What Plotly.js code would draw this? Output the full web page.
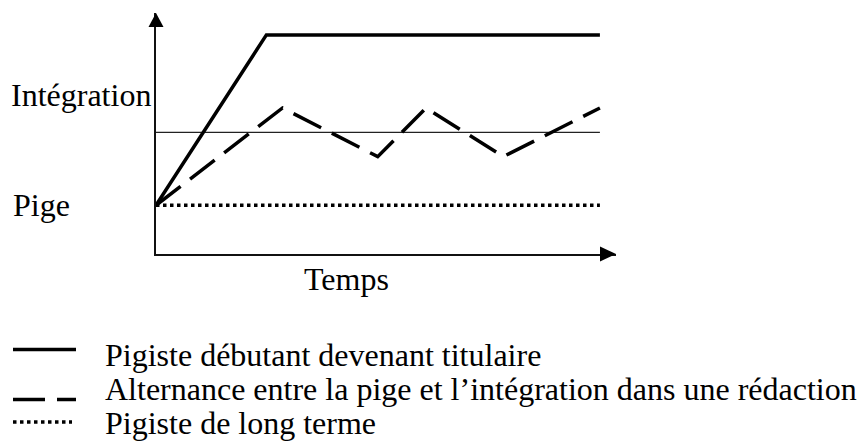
<!DOCTYPE html>
<html>
<head>
<meta charset="utf-8">
<script src="https://cdn.plot.ly/plotly-3.0.1.min.js"></script>
<style>
  html, body { margin: 0; padding: 0; background: #fff; }
  #chart { width: 861px; height: 441px; }
</style>
</head>
<body>
<div id="chart"></div>
<script>
// ---- Data ----
const seriesNames = [
  "Pigiste débutant devenant titulaire",
  "Alternance entre la pige et l\u2019intégration dans une rédaction",
  "Pigiste de long terme"
];
// time (arbitrary units 0-100) and level (0 = time axis)
const tempsTitulaire = [0, 24, 96.5];
const niveauTitulaire = [2, 9, 9];
const tempsAlternance = [0, 27.5, 48.2, 58.7, 75.5, 96.5];
const niveauAlternance = [2, 6, 4, 6, 4, 6];
const tempsLongTerme = [0, 96.5];
const niveauLongTerme = [2, 2];
const tempsSeuil = [0, 96.5];
const niveauSeuil = [5, 5];
const axisLabels = ["Intégration", "Pige", "Temps"];

// ---- Layout geometry ----
const W = 861, H = 441;
const M = { l: 156, r: 245, t: 13, b: 187 };
const PW = W - M.l - M.r, PH = H - M.t - M.b;
const px = x => (x - M.l) / PW;          // pixel -> paper x
const py = y => (H - M.b - y) / PH;      // pixel -> paper y
const FONT = "Liberation Serif";

const traces = [
  { x: tempsSeuil, y: niveauSeuil, mode: "lines", line: { color: "#222", width: 1.2 }, showlegend: false, hoverinfo: "skip" },
  { x: tempsLongTerme, y: niveauLongTerme, mode: "lines", name: seriesNames[2], line: { color: "#000", width: 3.5, dash: "3.5px,3.5px" }, showlegend: false },
  { x: tempsAlternance, y: niveauAlternance, mode: "lines", name: seriesNames[1], line: { color: "#000", width: 3.5, dash: "31px,12px" }, showlegend: false },
  { x: tempsTitulaire, y: niveauTitulaire, mode: "lines", name: seriesNames[0], line: { color: "#000", width: 3.5 }, showlegend: false }
];

const legendY = [349.5, 399.5, 422];
const legendDash = ["solid", "32px,12px", "3.5px,3.5px"];
const legendEnd = [76, 76, 72];
const legendTextCenter = [355, 389, 423];

const shapes = [
  // arrowheads
  { type: "path", xref: "paper", yref: "paper", xsizemode: "pixel", ysizemode: "pixel",
    xanchor: 0, yanchor: 1, path: "M0,0 L-7.5,-14 L7.5,-14 Z", fillcolor: "#000", line: { width: 0 } },
  { type: "path", xref: "paper", yref: "paper", xsizemode: "pixel", ysizemode: "pixel",
    xanchor: 1, yanchor: 0, path: "M0,0 L-16,7.5 L-16,-7.5 Z", fillcolor: "#000", line: { width: 0 } }
];
seriesNames.forEach((n, i) => {
  shapes.push({ type: "line", xref: "paper", yref: "paper",
    x0: px(13), x1: px(legendEnd[i]), y0: py(legendY[i]), y1: py(legendY[i]),
    line: { color: "#000", width: 3.5, dash: legendDash[i] } });
});

const annotations = [
  { text: axisLabels[0], xref: "paper", yref: "paper", x: px(153), y: py(95), xanchor: "right", yanchor: "middle", showarrow: false },
  { text: axisLabels[1], xref: "paper", yref: "paper", x: px(11), y: py(205), xanchor: "left", yanchor: "middle", showarrow: false },
  { text: axisLabels[2], xref: "paper", yref: "paper", x: px(346), y: py(279), xanchor: "center", yanchor: "middle", showarrow: false }
];
seriesNames.forEach((n, i) => {
  annotations.push({ text: n, xref: "paper", yref: "paper", x: px(103), y: py(legendTextCenter[i]),
    xanchor: "left", yanchor: "middle", showarrow: false });
});

const layout = {
  width: W, height: H,
  margin: M,
  paper_bgcolor: "#fff", plot_bgcolor: "#fff",
  font: { family: FONT, size: 32, color: "#000" },
  showlegend: false,
  xaxis: { range: [0, 100], showgrid: false, zeroline: false, showticklabels: false, ticks: "",
    showline: true, linecolor: "#111", linewidth: 2, fixedrange: true },
  yaxis: { range: [0, 9.9], showgrid: false, zeroline: false, showticklabels: false, ticks: "",
    showline: true, linecolor: "#111", linewidth: 2, fixedrange: true },
  shapes: shapes,
  annotations: annotations
};

Plotly.newPlot("chart", traces, layout, { displayModeBar: false, staticPlot: true });
</script>
</body>
</html>
